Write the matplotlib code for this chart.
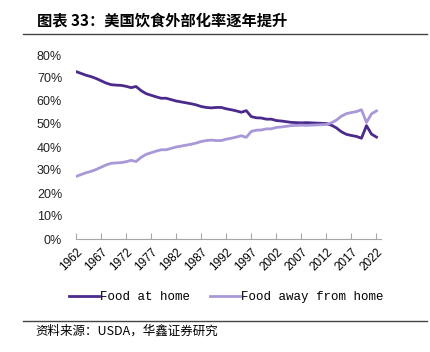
import matplotlib
matplotlib.use("Agg")
import matplotlib.pyplot as plt
from matplotlib.lines import Line2D
from matplotlib.ticker import FuncFormatter

years = list(range(1962, 2023))
food_at_home = [
    72.8, 72.0, 71.2, 70.6, 69.8, 68.8, 67.8, 67.1, 66.9, 66.8,
    66.4, 65.8, 66.3, 64.5, 63.2, 62.5, 61.8, 61.2, 61.2, 60.6,
    60.0, 59.6, 59.2, 58.8, 58.3, 57.6, 57.2, 57.0, 57.2, 57.2,
    56.6, 56.2, 55.7, 55.1, 55.8, 53.2, 52.7, 52.6, 52.1, 52.1,
    51.5, 51.3, 51.0, 50.7, 50.6, 50.5, 50.6, 50.5, 50.4, 50.3,
    50.2, 49.5, 48.3, 46.6, 45.5, 45.0, 44.6, 43.8, 49.3, 45.6,
    44.3,
]
food_away = [
    27.2, 28.0, 28.8, 29.4, 30.2, 31.2, 32.2, 32.9, 33.1, 33.2,
    33.6, 34.2, 33.7, 35.5, 36.8, 37.5, 38.2, 38.8, 38.8, 39.4,
    40.0, 40.4, 40.8, 41.2, 41.7, 42.4, 42.8, 43.0, 42.8, 42.8,
    43.4, 43.8, 44.3, 44.9, 44.2, 46.8, 47.3, 47.4, 47.9, 47.9,
    48.5, 48.7, 49.0, 49.3, 49.4, 49.5, 49.4, 49.5, 49.6, 49.7,
    49.8, 50.5, 51.7, 53.4, 54.5, 55.0, 55.4, 56.2, 50.7, 54.4,
    55.7,
]
tick_years = list(range(1962, 2023, 5))
series_names = ["Food at home", "Food away from home"]
title = "图表 33：美国饮食外部化率逐年提升"
source = "资料来源：USDA，华鑫证券研究"

c_home = "#4B2A8C"
c_away = "#A898D8"

fig = plt.figure(figsize=(4.31, 3.52), dpi=100)
ax = fig.add_axes([76/431, 1-239/352, 305/431, 184/352])

ax.plot(years, food_at_home, color=c_home, lw=2.0, solid_joinstyle="round")
ax.plot(years, food_away, color=c_away, lw=2.0, solid_joinstyle="round")

ax.set_xlim(1962, 2022.9)
ax.set_ylim(0, 80)
ax.set_yticks(range(0, 81, 10))
ax.yaxis.set_major_formatter(FuncFormatter(lambda v, p: f"{int(v)}%"))
ax.set_xticks(tick_years)
ax.set_xticklabels([str(y) for y in tick_years], rotation=45, ha="right",
                   rotation_mode="anchor", fontsize=8.5, family="Liberation Sans")
for lab in ax.get_yticklabels():
    lab.set_family("Liberation Sans")
    lab.set_fontsize(9)
for s in ["top", "right", "left"]:
    ax.spines[s].set_visible(False)
ax.spines["bottom"].set_color("#A6A6A6")
ax.tick_params(axis="y", length=0, pad=10, colors="#222222")
ax.tick_params(axis="x", direction="in", length=4, color="#A6A6A6", pad=5)

handles = [Line2D([], [], color=c_home, lw=2.0), Line2D([], [], color=c_away, lw=2.0)]
fig.legend(handles, series_names, loc="center", bbox_to_anchor=(0.525, 1-297/352),
           ncol=2, frameon=False, handlelength=2.4, handletextpad=0.1,
           columnspacing=1.6, prop={"family": "Liberation Mono", "size": 9})

fig.text(37/431, 1-20/352, title, fontsize=11, fontweight="bold",
         family=["Noto Sans CJK SC", "DejaVu Sans"], va="center", ha="left")
fig.add_artist(Line2D([23/431, 427/431], [1-34/352, 1-34/352], color="#444444", lw=1.0))
fig.add_artist(Line2D([23/431, 427/431], [1-321/352, 1-321/352], color="#444444", lw=1.0))
fig.text(35/431, 1-331/352, source, fontsize=9,
         family=["Noto Sans CJK SC", "DejaVu Sans"], va="center", ha="left")

fig.savefig("out.png", dpi=100)
